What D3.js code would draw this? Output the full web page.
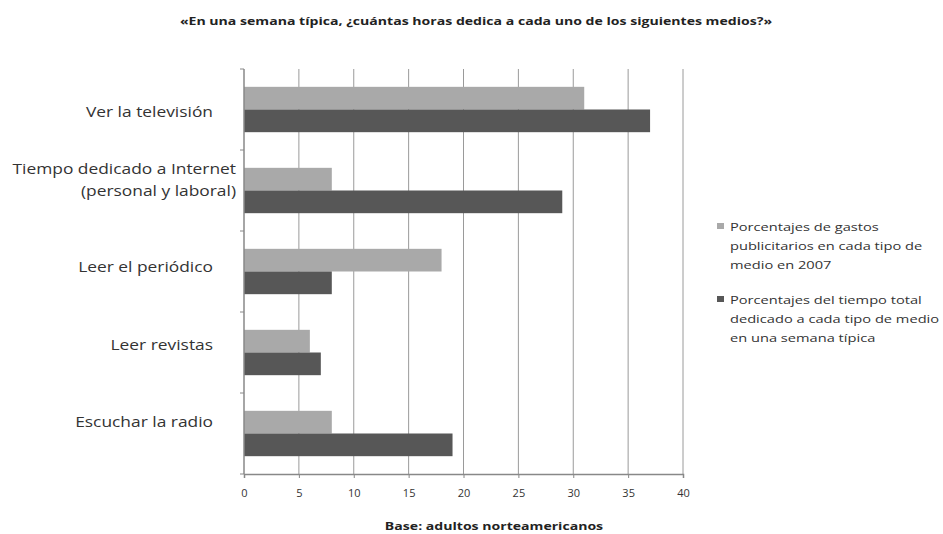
<!DOCTYPE html>
<html>
<head>
<meta charset="utf-8">
<script src="https://cdn.jsdelivr.net/npm/d3@7"></script>
<style>
  body { margin: 0; background: #fff; }
  svg { display: block; font-family: "Open Sans", sans-serif; }
</style>
</head>
<body>
<svg id="chart" width="943" height="534"></svg>
<script>
// Media categories, top to bottom
const categories = [
  ["Ver la televisión"],
  ["Tiempo dedicado a Internet", "(personal y laboral)"],
  ["Leer el periódico"],
  ["Leer revistas"],
  ["Escuchar la radio"]
];
// Share of advertising spend per medium, 2007
const adSpend = [31, 8, 18, 6, 8];
// Share of total time spent per medium in a typical week
const timeSpent = [37, 29, 8, 7, 19];
const seriesNames = [
  ["Porcentajes de gastos", "publicitarios en cada tipo de", "medio en 2007"],
  ["Porcentajes del tiempo total", "dedicado a cada tipo de medio", "en una semana típica"]
];
const xTicks = [0, 5, 10, 15, 20, 25, 30, 35, 40];
const colors = ["#a9a9a9", "#575757"];

const svg = d3.select("#chart");
const plot = { left: 244, right: 683, top: 69, bottom: 474 };

// Text in this figure is set slightly wide; stretch each run horizontally by k.
function stretch(sel, k) {
  sel.each(function () {
    const w = this.getComputedTextLength();
    d3.select(this).attr("textLength", w * k).attr("lengthAdjust", "spacingAndGlyphs");
  });
}

const x = d3.scaleLinear().domain([0, 40]).range([plot.left, plot.right]);
const y = d3.scaleBand().domain(d3.range(categories.length)).range([plot.top, plot.bottom]).paddingInner(0.44).paddingOuter(0.22);
const ySub = d3.scaleBand().domain([0, 1]).range([0, y.bandwidth()]);
const yLabel = d3.scalePoint().domain(d3.range(categories.length)).range([112, 422]);

// Title
svg.append("text").attr("x", 476).attr("y", 25).attr("text-anchor", "middle")
  .attr("font-size", 11).attr("font-weight", "bold").attr("fill", "#222")
  .text("«En una semana típica, ¿cuántas horas dedica a cada uno de los siguientes medios?»")
  .call(stretch, 1.28);

// Vertical gridlines
svg.append("g").selectAll("line").data(xTicks.slice(1)).join("line")
  .attr("x1", d => x(d)).attr("x2", d => x(d))
  .attr("y1", plot.top).attr("y2", plot.bottom)
  .attr("stroke", "#9a9a9a").attr("stroke-width", 1);

// Bars
const groups = svg.append("g").selectAll("g").data(categories).join("g")
  .attr("transform", (d, i) => `translate(0,${y(i)})`);
groups.append("rect").attr("x", x(0)).attr("y", ySub(0))
  .attr("width", (d, i) => x(adSpend[i]) - x(0)).attr("height", ySub.bandwidth())
  .attr("fill", colors[0]);
groups.append("rect").attr("x", x(0)).attr("y", ySub(1))
  .attr("width", (d, i) => x(timeSpent[i]) - x(0)).attr("height", ySub.bandwidth())
  .attr("fill", colors[1]);

// Value axis
const xAxis = svg.append("g").attr("transform", `translate(0,${plot.bottom})`)
  .call(d3.axisBottom(x).tickValues(xTicks).tickSize(4).tickPadding(12));
xAxis.select(".domain").attr("stroke", "#888").attr("stroke-width", 1.5);
xAxis.selectAll(".tick line").attr("stroke", "#888");
xAxis.selectAll("text").attr("font-size", 10).attr("fill", "#333").attr("font-family", "Open Sans, sans-serif")
  .call(stretch, 1.1);

// Category axis line with boundary ticks
svg.append("line").attr("x1", plot.left).attr("x2", plot.left).attr("y1", plot.top).attr("y2", plot.bottom)
  .attr("stroke", "#888").attr("stroke-width", 1.5);
const step = (plot.bottom - plot.top) / categories.length;
svg.append("g").selectAll("line").data(d3.range(categories.length + 1)).join("line")
  .attr("x1", plot.left - 4).attr("x2", plot.left)
  .attr("y1", d => plot.top + d * step).attr("y2", d => plot.top + d * step)
  .attr("stroke", "#888");

// Category labels (two-line labels sit further right and a little higher)
const labels = svg.append("g").selectAll("g").data(categories).join("g")
  .attr("transform", (d, i) => `translate(${d.length > 1 ? 236 : 213},${yLabel(i) + 5 - (d.length - 1) * 21})`);
labels.selectAll("text").data(d => d).join("text")
  .attr("x", 0).attr("y", (d, j) => j * 22)
  .attr("text-anchor", "end").attr("font-size", 14).attr("fill", "#333")
  .text(d => d)
  .call(stretch, 1.24);

// Axis caption
svg.append("text").attr("x", 494).attr("y", 530).attr("text-anchor", "middle")
  .attr("font-size", 11).attr("font-weight", "bold").attr("fill", "#222")
  .text("Base: adultos norteamericanos")
  .call(stretch, 1.28);

// Legend
const legend = svg.append("g").selectAll("g").data(seriesNames).join("g")
  .attr("transform", (d, i) => `translate(717,${231 + i * 73})`);
legend.append("rect").attr("x", 0).attr("y", -8).attr("width", 7).attr("height", 6)
  .attr("fill", (d, i) => colors[i]);
legend.selectAll("text").data(d => d).join("text")
  .attr("x", 13).attr("y", (d, j) => j * 19)
  .attr("font-size", 11).attr("fill", "#333")
  .text(d => d)
  .call(stretch, 1.33);
</script>
</body>
</html>
